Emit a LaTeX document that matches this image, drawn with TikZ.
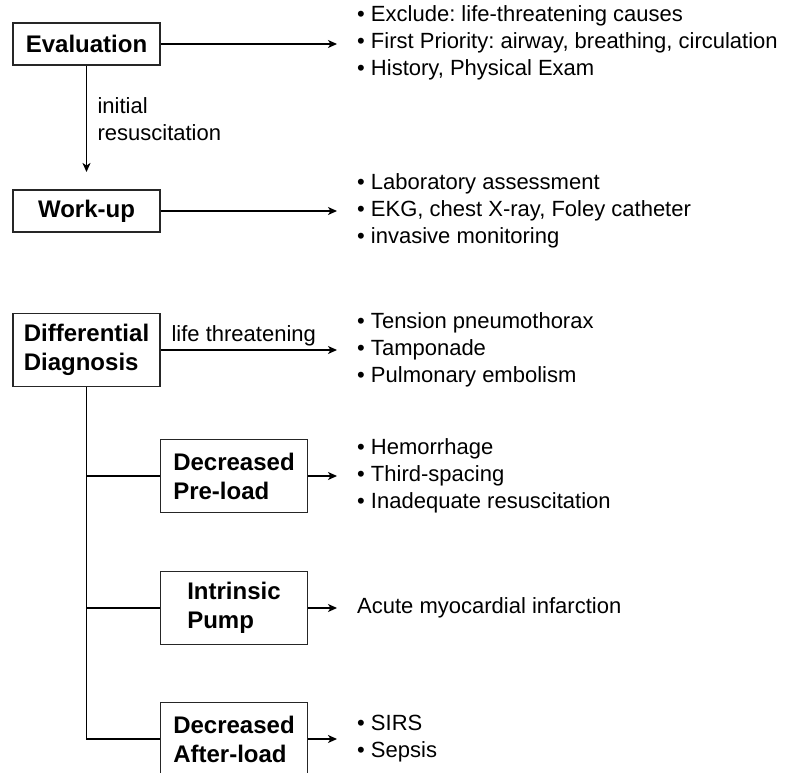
\documentclass[tikz,border=0pt]{standalone}
\usepackage{fontspec}
\setmainfont{Liberation Sans}
\usetikzlibrary{arrows.meta}
\frenchspacing

\tikzset{
  stage/.style   = {draw=black!85, line width=1.1pt, minimum width=147pt,
                    minimum height=42pt, inner sep=0pt, align=left,
                    font=\bfseries\fontsize{24}{29}\selectfont},
  stagetwo/.style= {stage, minimum height=73pt},
  items/.style   = {anchor=west, align=left, inner xsep=20pt, inner ysep=0pt,
                    font=\fontsize{22}{27}\selectfont},
  link/.style    = {line width=1.5pt, -{Stealth[length=9pt,width=8pt,inset=2.5pt]}},
  trunk/.style   = {line width=1.5pt},
  note/.style    = {font=\fontsize{22}{27}\selectfont, align=left},
}

\begin{document}
\begin{tikzpicture}[x=1pt,y=-1pt]
   \useasboundingbox (0,0) rectangle (793,773);
   % boxes
   \node[stage]    (eval)      at (86.5,44)  {Evaluation};
   \node[stage]    (workup)    at (86.5,211) {Work-up};
   \node[stagetwo] (diff)      at (86.5,350) {Differential\\Diagnosis};
   \node[stagetwo] (preload)   at (234,476)  {Decreased\\Pre-load};
   \node[stagetwo] (pump)      at (234,608)  {Intrinsic\\Pump};
   \node[stagetwo] (afterload) at (234,739)  {Decreased\\After-load};
   % lists
   \node[items] (evalList)  at (337,43)  {\textbullet\ Exclude: life-threatening causes\\
                                          \textbullet\ First Priority: airway, breathing, circulation\\
                                          \textbullet\ History, Physical Exam};
   \node[items] (workList)  at (337,211) {\textbullet\ Laboratory assessment\\
                                          \textbullet\ EKG, chest X-ray, Foley catheter\\
                                          \textbullet\ invasive monitoring};
   \node[items] (diffList)  at (337,350) {\textbullet\ Tension pneumothorax\\
                                          \textbullet\ Tamponade\\
                                          \textbullet\ Pulmonary embolism};
   \node[items] (preList)   at (337,476) {\textbullet\ Hemorrhage\\
                                          \textbullet\ Third-spacing\\
                                          \textbullet\ Inadequate resuscitation};
   \node[items] (pumpText)  at (337,608) {Acute myocardial infarction};
   \node[items] (afterList) at (337,739) {\textbullet\ SIRS\\
                                          \textbullet\ Sepsis};
   \coordinate (resusc) at (86.5,172);
   % connectors
   \draw[link] (eval) -- (eval -| evalList.west);
   \draw[link] (eval) -- (resusc)
      node[note, midway, right, xshift=7pt] {initial\\resuscitation};
   \draw[link] (workup) -- (workup -| workList.west);
   \draw[link] (diff) -- (diff -| diffList.west)
      node[note, midway, above, xshift=-5pt] {life threatening};
   \draw[trunk] (diff.south) -- (diff.south |- afterload.west) -- (afterload.west);
   \draw[trunk] (diff.south |- preload.west) -- (preload.west);
   \draw[trunk] (diff.south |- pump.west) -- (pump.west);
   \draw[link] (preload) -- (preload -| preList.west);
   \draw[link] (pump) -- (pump -| pumpText.west);
   \draw[link] (afterload) -- (afterload -| afterList.west);
\end{tikzpicture}
\end{document}
